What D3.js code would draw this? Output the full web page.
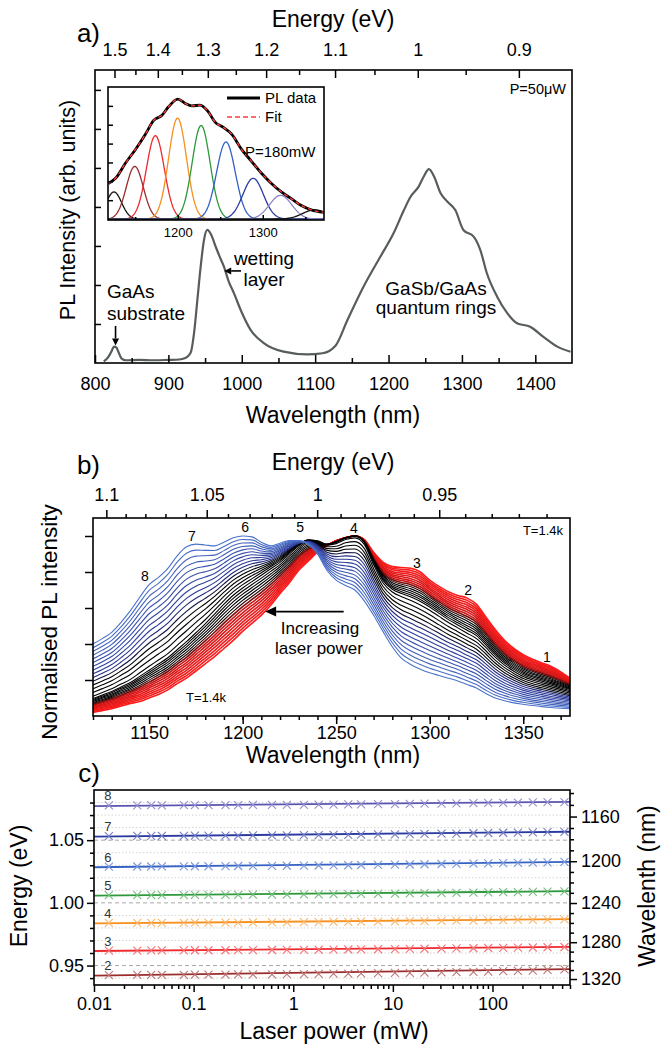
<!DOCTYPE html>
<html>
<head>
<meta charset="utf-8">
<title>PL spectra of GaSb/GaAs quantum rings</title>
<script src="https://cdnjs.cloudflare.com/ajax/libs/d3/7.8.5/d3.min.js"></script>
<style>
  body { margin: 0; background: #fff; }
  svg { display: block; }
</style>
</head>
<body>
<svg id="chart" width="664" height="1048"></svg>
<script>
var HC = 1239.84; // nm*eV, for the energy axes

/* ---- panel a: survey spectrum, P=50uW ---- */
var aWave = [812, 818, 822, 826, 829, 832, 836, 842, 860, 880,
             900, 915, 922, 927, 931, 935, 939.5, 944, 948.5, 953,
             958, 964.5, 970, 975.7, 982, 989.3, 998.5, 1012, 1030, 1057,
             1089, 1110, 1128, 1144, 1166, 1189, 1207, 1221, 1230, 1241,
             1248, 1255, 1262, 1271, 1280, 1291, 1302, 1316, 1325, 1334,
             1348, 1362, 1375, 1393, 1411, 1430, 1448];
var aIntensity = [0.04, 0.15, 0.28, 0.42, 0.40, 0.28, 0.12, 0.07, 0.08, 0.07,
                  0.08, 0.09, 0.12, 0.18, 0.30, 0.77, 1.62, 2.47, 3.15, 3.41,
                  3.30, 2.98, 2.72, 2.47, 2.10, 1.79, 1.36, 0.85, 0.51, 0.29,
                  0.22, 0.25, 0.45, 1.10, 1.96, 2.73, 3.33, 3.92, 4.26, 4.52,
                  4.78, 4.97, 4.78, 4.35, 4.14, 3.92, 3.41, 3.24, 2.90, 2.30,
                  1.70, 1.27, 1.02, 0.93, 0.67, 0.42, 0.29];
var aTopEnergy = [1.5, 1.4, 1.3, 1.2, 1.1, 1, 0.9];
var aTopEnergyMinor = [1.45, 1.35, 1.25, 1.15, 1.05, 0.95];
var aWaveTicks = [800, 900, 1000, 1100, 1200, 1300, 1400];
var aWaveMinor = [850, 950, 1050, 1150, 1250, 1350];
var aIntTicks = [1, 2, 3, 4, 5, 6, 7];

/* ---- inset: decomposition at P=180mW ---- */
var insetWave = [1118.4, 1126.9, 1138.6, 1150.3, 1162, 1171.7, 1181.5, 1189.2, 1200.2, 1208.8,
                 1216.6, 1226.3, 1236, 1243.9, 1253.6, 1263.4, 1275.1, 1286.8, 1298.5, 1310.2,
                 1321.9, 1333.6, 1345.3, 1357, 1371.7];
var insetPL = [1.89, 2.16, 2.97, 3.69, 4.50, 5.23, 5.50, 5.95, 6.36, 6.13,
               6.00, 6.04, 5.68, 5.14, 4.86, 4.50, 3.69, 3.06, 2.43, 1.89,
               1.44, 1.08, 0.72, 0.49, 0.36];
var peakCentre = [1125, 1149.5, 1173.7, 1199.8, 1227.5, 1256.7, 1288.7, 1321, 1361];
var peakHeight = [1.44, 2.79, 4.42, 5.35, 4.96, 4.09, 2.16, 1.26, 0.49];
var peakSigma  = [9, 10, 10.5, 10.5, 10.5, 11, 12, 13, 14];
var insetTicks = [1200, 1300];
var insetMinor = [1150, 1250, 1350];
var insetIntTicks = [1, 2, 3, 4, 5, 6];

/* ---- panel b: normalised spectra vs laser power ---- */
var bWave = [1120, 1125, 1130, 1135, 1140, 1145, 1150, 1155, 1160, 1165,
             1170, 1175, 1180, 1185, 1190, 1195, 1200, 1205, 1210, 1215,
             1220, 1225, 1230, 1235, 1240, 1245, 1250, 1255, 1260, 1265,
             1270, 1275, 1280, 1285, 1290, 1295, 1300, 1305, 1310, 1315,
             1320, 1325, 1330, 1335, 1340, 1345, 1350, 1355, 1360, 1365,
             1370, 1375];
// lowest power (red), middle (black), highest power (blue)
var bLowPower = [0.02, 0.03, 0.04, 0.055, 0.07, 0.08, 0.10, 0.12, 0.145, 0.18,
                 0.21, 0.25, 0.29, 0.33, 0.375, 0.42, 0.47, 0.515, 0.56, 0.615,
                 0.68, 0.74, 0.81, 0.86, 0.91, 0.945, 0.975, 0.99, 1.0, 0.98,
                 0.91, 0.855, 0.83, 0.825, 0.82, 0.80, 0.755, 0.72, 0.69, 0.67,
                 0.655, 0.62, 0.55, 0.48, 0.42, 0.375, 0.34, 0.315, 0.295, 0.275,
                 0.245, 0.21];
var bMidPower = [0.10, 0.12, 0.14, 0.165, 0.19, 0.225, 0.26, 0.295, 0.33, 0.375,
                 0.42, 0.47, 0.52, 0.575, 0.63, 0.68, 0.72, 0.755, 0.79, 0.825,
                 0.86, 0.905, 0.95, 0.98, 0.975, 0.955, 0.965, 0.99, 1.0, 0.965,
                 0.85, 0.75, 0.70, 0.675, 0.655, 0.63, 0.60, 0.565, 0.53, 0.50,
                 0.47, 0.44, 0.39, 0.335, 0.29, 0.255, 0.225, 0.205, 0.19, 0.175,
                 0.16, 0.145];
var bHighPower = [0.40, 0.43, 0.465, 0.52, 0.585, 0.66, 0.73, 0.77, 0.82, 0.89,
                  0.94, 0.955, 0.95, 0.945, 0.965, 0.99, 1.0, 0.995, 0.965, 0.945,
                  0.96, 0.975, 0.975, 0.955, 0.90, 0.81, 0.755, 0.725, 0.70, 0.64,
                  0.56, 0.47, 0.385, 0.32, 0.285, 0.26, 0.24, 0.225, 0.21, 0.195,
                  0.175, 0.155, 0.125, 0.10, 0.085, 0.073, 0.065, 0.058, 0.052, 0.047,
                  0.043, 0.04];
var bTopEnergy = [1.1, 1.05, 1, 0.95];
var bTopEnergyMinor = [1.09, 1.08, 1.07, 1.06, 1.04, 1.03, 1.02, 1.01,
                       0.99, 0.98, 0.97, 0.96, 0.94, 0.93, 0.92, 0.91];
var bWaveTicks = [1150, 1200, 1250, 1300, 1350];
var bIntTicks = [0.2, 0.4, 0.6, 0.8, 1.0];
var bPeakLabels = ['1', '2', '3', '4', '5', '6', '7', '8'];
var bPeakLabelWave = [1362.7, 1320.5, 1293.2, 1259.5, 1230.7, 1201.3, 1172.9, 1147.8];
var bPeakLabelInt = [0.30, 0.67, 0.82, 1.015, 1.025, 1.025, 0.97, 0.75];

/* ---- panel c: peak energies vs laser power ---- */
var laserPower = [0.0141, 0.0272, 0.0375, 0.048, 0.0798, 0.103, 0.141, 0.209, 0.28, 0.394,
                  0.612, 0.863, 1.28, 1.80, 2.54, 3.57, 4.80, 7.10, 10.5, 14.8,
                  20.8, 30.8, 43.5, 64.4, 90.6, 128, 180, 254, 357, 528];
var cPeaks = ['8', '7', '6', '5', '4', '3', '2'];
var cE8 = [1.0778, 1.0778, 1.0779, 1.0778, 1.0779, 1.0779, 1.0780, 1.0780, 1.0780, 1.0781,
           1.0781, 1.0782, 1.0782, 1.0783, 1.0784, 1.0785, 1.0786, 1.0787, 1.0788, 1.0789,
           1.0791, 1.0792, 1.0794, 1.0795, 1.0797, 1.0798, 1.0800, 1.0801, 1.0803, 1.0804];
var cE7 = [1.0533, 1.0534, 1.0534, 1.0535, 1.0535, 1.0536, 1.0536, 1.0537, 1.0537, 1.0538,
           1.0539, 1.0539, 1.0540, 1.0541, 1.0542, 1.0543, 1.0544, 1.0546, 1.0547, 1.0549,
           1.0550, 1.0552, 1.0553, 1.0555, 1.0557, 1.0559, 1.0560, 1.0562, 1.0564, 1.0566];
var cE6 = [1.0289, 1.0290, 1.0290, 1.0291, 1.0291, 1.0292, 1.0292, 1.0293, 1.0294, 1.0294,
           1.0295, 1.0296, 1.0297, 1.0298, 1.0299, 1.0300, 1.0302, 1.0303, 1.0305, 1.0306,
           1.0308, 1.0310, 1.0311, 1.0313, 1.0315, 1.0317, 1.0319, 1.0321, 1.0323, 1.0326];
var cE5 = [1.0061, 1.0061, 1.0062, 1.0062, 1.0062, 1.0063, 1.0063, 1.0064, 1.0064, 1.0065,
           1.0066, 1.0066, 1.0067, 1.0068, 1.0069, 1.0070, 1.0071, 1.0072, 1.0074, 1.0075,
           1.0077, 1.0078, 1.0080, 1.0081, 1.0083, 1.0085, 1.0086, 1.0088, 1.0090, 1.0092];
var cE4 = [0.9840, 0.9840, 0.9841, 0.9841, 0.9841, 0.9842, 0.9842, 0.9843, 0.9843, 0.9844,
           0.9844, 0.9845, 0.9846, 0.9847, 0.9848, 0.9849, 0.9850, 0.9851, 0.9852, 0.9854,
           0.9855, 0.9856, 0.9858, 0.9859, 0.9861, 0.9862, 0.9864, 0.9865, 0.9867, 0.9869];
var cE3 = [0.9620, 0.9620, 0.9621, 0.9621, 0.9621, 0.9622, 0.9622, 0.9622, 0.9623, 0.9623,
           0.9624, 0.9625, 0.9625, 0.9626, 0.9627, 0.9628, 0.9629, 0.9630, 0.9631, 0.9633,
           0.9634, 0.9635, 0.9637, 0.9638, 0.9640, 0.9641, 0.9643, 0.9644, 0.9646, 0.9648];
var cE2 = [0.9424, 0.9425, 0.9425, 0.9426, 0.9426, 0.9427, 0.9427, 0.9428, 0.9429, 0.9429,
           0.9430, 0.9431, 0.9432, 0.9433, 0.9435, 0.9436, 0.9437, 0.9439, 0.9441, 0.9442,
           0.9444, 0.9446, 0.9448, 0.9450, 0.9452, 0.9455, 0.9457, 0.9460, 0.9465, 0.9470];
var cFitLeft  = [1.0772, 1.0528, 1.0284, 1.0057, 0.9836, 0.9616, 0.9420];
var cFitRight = [1.0806, 1.0567, 1.0327, 1.0093, 0.9870, 0.9649, 0.9472];
var cEnergyTicks = [0.95, 1.00, 1.05];
var cWaveTicks = [1160, 1200, 1240, 1280, 1320];
var cPowerTicks = [0.01, 0.1, 1, 10, 100];

/* colours */
var cRowColour = ['#5b54b2', '#2b3aa0', '#3461c4', '#2c9a3a', '#f7901e', '#ee2a2f', '#9a2c2c'];
var insetColour = ['#111', '#9a2c2c', '#ee2a2f', '#f7901e', '#2c9a3a', '#3461c4', '#2b3aa0', '#8a82cc', '#111'];

var FONT = '"Liberation Sans", Arial, Helvetica, sans-serif';
var svg = d3.select('#chart');

function txt(g, x, y, s, size, anchor) {
    return g.append('text')
        .attr('x', x).attr('y', y)
        .attr('font-family', FONT)
        .attr('font-size', size)
        .attr('text-anchor', anchor || 'start')
        .attr('fill', '#000')
        .text(s);
}

function vtxt(g, x, y, s, size) {
    return g.append('text')
        .attr('transform', 'translate(' + x + ',' + y + ') rotate(-90)')
        .attr('font-family', FONT)
        .attr('font-size', size)
        .attr('text-anchor', 'middle')
        .attr('fill', '#000')
        .text(s);
}

function styleAxis(g, size) {
    g.select('.domain').remove();
    g.selectAll('.tick line').attr('stroke', '#000').attr('stroke-width', 1.5);
    g.selectAll('.tick text')
        .attr('font-family', FONT)
        .attr('font-size', size || 18)
        .attr('fill', '#000');
}

function noLabel() { return ''; }
function energyLabel(w) { return +(HC / w).toFixed(2); }
function toWave(e) { return HC / e; }

function arrow(g, x1, y1, x2, y2, head, width) {
    var ang = Math.atan2(y2 - y1, x2 - x1);
    var bx = x2 - head * Math.cos(ang), by = y2 - head * Math.sin(ang);
    var px = Math.sin(ang) * width, py = -Math.cos(ang) * width;
    g.append('line')
        .attr('x1', x1).attr('y1', y1).attr('x2', bx).attr('y2', by)
        .attr('stroke', '#000').attr('stroke-width', 1.6);
    g.append('path')
        .attr('d', 'M' + x2 + ',' + y2 + 'L' + (bx + px) + ',' + (by + py) + 'L' + (bx - px) + ',' + (by - py) + 'Z')
        .attr('fill', '#000');
}

function box(g, b) {
    g.append('rect')
        .attr('x', b.l).attr('y', b.t)
        .attr('width', b.r - b.l).attr('height', b.b - b.t)
        .attr('fill', 'none').attr('stroke', '#000').attr('stroke-width', 1.6);
}

function clip(g, id, b) {
    g.append('clipPath').attr('id', id).append('rect')
        .attr('x', b.l).attr('y', b.t)
        .attr('width', b.r - b.l).attr('height', b.b - b.t);
}

/* ================= panel a ================= */
var aBox = {l: 95, r: 572, t: 70, b: 363};
var xA = d3.scaleLinear().domain([800, 1450]).range([aBox.l, aBox.r]);
var yA = d3.scaleLinear().domain([0, 7.51]).range([aBox.b, aBox.t]);
var pa = svg.append('g').attr('class', 'panel-a');
clip(pa, 'clipA', aBox);

pa.append('path')
    .datum(d3.zip(aWave, aIntensity))
    .attr('d', d3.line().x(function(d) { return xA(d[0]); }).y(function(d) { return yA(d[1]); }).curve(d3.curveMonotoneX))
    .attr('fill', 'none')
    .attr('stroke', '#575c5c')
    .attr('stroke-width', 2.2)
    .attr('clip-path', 'url(#clipA)');

// axes, ticks point inwards here
pa.append('g').attr('transform', 'translate(0,' + aBox.b + ')')
    .call(d3.axisBottom(xA).tickValues(aWaveTicks).tickSize(-8).tickPadding(14).tickFormat(d3.format('d')))
    .call(styleAxis);
pa.append('g').attr('transform', 'translate(0,' + aBox.b + ')')
    .call(d3.axisBottom(xA).tickValues(aWaveMinor).tickSize(-5).tickFormat(noLabel))
    .call(styleAxis);
pa.append('g').attr('transform', 'translate(0,' + aBox.t + ')')
    .call(d3.axisTop(xA).tickValues(aTopEnergy.map(toWave)).tickSize(-8).tickPadding(14).tickFormat(energyLabel))
    .call(styleAxis);
pa.append('g').attr('transform', 'translate(0,' + aBox.t + ')')
    .call(d3.axisTop(xA).tickValues(aTopEnergyMinor.map(toWave)).tickSize(-5).tickFormat(noLabel))
    .call(styleAxis);
pa.append('g').attr('transform', 'translate(' + aBox.l + ',0)')
    .call(d3.axisLeft(yA).tickValues(aIntTicks).tickSize(-6).tickFormat(noLabel))
    .call(styleAxis);
box(pa, aBox);

txt(pa, 333, 27, 'Energy (eV)', 23, 'middle');
txt(pa, 333, 423, 'Wavelength (nm)', 23, 'middle');
vtxt(pa, 75, 210, 'PL Intensity (arb. units)', 21.5);
txt(pa, 100, 42, 'a)', 26, 'end');
txt(pa, 566, 94, 'P=50\u03bcW', 14.5, 'end');

// annotations
txt(pa, 107, 298, 'GaAs', 19);
txt(pa, 107, 320, 'substrate', 19);
arrow(pa, xA(828), yA(0.95), xA(828), yA(0.45), 7, 3.5);
txt(pa, 264, 265, 'wetting', 19, 'middle');
txt(pa, 264, 286, 'layer', 19, 'middle');
arrow(pa, xA(999), yA(2.36), xA(976), yA(2.36), 7, 3.5);
txt(pa, 436, 295, 'GaSb/GaAs', 19, 'middle');
txt(pa, 436, 314, 'quantum rings', 19, 'middle');

/* ---- inset ---- */
var inBox = {l: 108, r: 324, t: 87, b: 220};
var xI = d3.scaleLinear().domain([1118, 1372]).range([inBox.l, inBox.r]);
var yI = d3.scaleLinear().domain([-0.05, 7.0]).range([inBox.b, inBox.t]);
var ins = pa.append('g').attr('class', 'inset');
ins.append('rect').attr('x', inBox.l).attr('y', inBox.t)
    .attr('width', inBox.r - inBox.l).attr('height', inBox.b - inBox.t).attr('fill', '#fff');
clip(ins, 'clipI', inBox);

var lineI = d3.line().x(function(d) { return xI(d[0]); }).y(function(d) { return yI(d[1]); });
var gWave = d3.range(1118, 1373, 1);
peakCentre.forEach(function(c, k) {
    var pts = gWave.map(function(w) {
        var z = (w - c) / peakSigma[k];
        return [w, peakHeight[k] * Math.exp(-0.5 * z * z)];
    });
    ins.append('path').datum(pts)
        .attr('d', lineI)
        .attr('fill', 'none')
        .attr('stroke', insetColour[k])
        .attr('stroke-width', 1.3)
        .attr('clip-path', 'url(#clipI)');
});
var insetData = d3.zip(insetWave, insetPL);
ins.append('path').datum(insetData)
    .attr('d', lineI.curve(d3.curveMonotoneX))
    .attr('fill', 'none').attr('stroke', '#000').attr('stroke-width', 2.8)
    .attr('clip-path', 'url(#clipI)');
ins.append('path').datum(insetData)
    .attr('d', lineI.curve(d3.curveMonotoneX))
    .attr('fill', 'none').attr('stroke', '#ff3b3b').attr('stroke-width', 1.3)
    .attr('stroke-dasharray', '4,3')
    .attr('clip-path', 'url(#clipI)');

ins.append('g').attr('transform', 'translate(0,' + inBox.b + ')')
    .call(d3.axisBottom(xI).tickValues(insetTicks).tickSize(-5).tickPadding(8).tickFormat(d3.format('d')))
    .call(styleAxis, 13);
ins.append('g').attr('transform', 'translate(0,' + inBox.b + ')')
    .call(d3.axisBottom(xI).tickValues(insetMinor).tickSize(-3).tickFormat(noLabel))
    .call(styleAxis);
ins.append('g').attr('transform', 'translate(' + inBox.l + ',0)')
    .call(d3.axisLeft(yI).tickValues(insetIntTicks).tickSize(-5).tickFormat(noLabel))
    .call(styleAxis);
box(ins, inBox);

// legend
ins.append('line').attr('x1', 227).attr('x2', 260).attr('y1', 98).attr('y2', 98)
    .attr('stroke', '#000').attr('stroke-width', 2.8);
txt(ins, 265, 103, 'PL data', 15);
ins.append('line').attr('x1', 227).attr('x2', 260).attr('y1', 117).attr('y2', 117)
    .attr('stroke', '#ff3b3b').attr('stroke-width', 1.4).attr('stroke-dasharray', '5,3');
txt(ins, 265, 122, 'Fit', 15);
txt(ins, 245, 157, 'P=180mW', 15);

/* ================= panel b ================= */
var bBox = {l: 93, r: 570, t: 518, b: 716};
var xB = d3.scaleLinear().domain([1120, 1375]).range([bBox.l, bBox.r]);
var yB = d3.scaleLinear().domain([0, 1.1]).range([bBox.b, bBox.t]);
var pb = svg.append('g').attr('class', 'panel-b');
clip(pb, 'clipB', bBox);

var nCurves = laserPower.length;
var curveColour = d3.scaleLinear()
    .domain([0, 0.24, 0.33, 0.62, 0.7, 1])
    .range(['#ff1c1c', '#d01515', '#000000', '#000000', '#283392', '#4b73cc'])
    .interpolate(d3.interpolateRgb);

// spectra between the three read curves, one per laser power
var spectra = laserPower.map(function(p, i) {
    var t = i / (nCurves - 1);
    var lo = t < 0.5 ? bLowPower : bMidPower;
    var hi = t < 0.5 ? bMidPower : bHighPower;
    var s = t < 0.5 ? t / 0.5 : (t - 0.5) / 0.5;
    return {t: t, pts: bWave.map(function(w, j) { return [w, lo[j] + (hi[j] - lo[j]) * s]; })};
});

var lineB = d3.line().x(function(d) { return xB(d[0]); }).y(function(d) { return yB(d[1]); }).curve(d3.curveMonotoneX);
pb.append('g').attr('clip-path', 'url(#clipB)')
    .selectAll('path').data(spectra).enter().append('path')
    .attr('d', function(d) { return lineB(d.pts); })
    .attr('fill', 'none')
    .attr('stroke', function(d) { return curveColour(d.t); })
    .attr('stroke-width', function(d) { return d.t < 0.3 ? 1.6 : 1.1; });

pb.append('g').attr('transform', 'translate(0,' + bBox.b + ')')
    .call(d3.axisBottom(xB).tickValues(bWaveTicks).tickSize(8).tickPadding(2).tickFormat(d3.format('d')))
    .call(styleAxis);
pb.append('g').attr('transform', 'translate(0,' + bBox.b + ')')
    .call(d3.axisBottom(xB).tickValues(d3.range(1120, 1376, 10)).tickSize(4).tickFormat(noLabel))
    .call(styleAxis);
pb.append('g').attr('transform', 'translate(0,' + bBox.t + ')')
    .call(d3.axisTop(xB).tickValues(bTopEnergy.map(toWave)).tickSize(8).tickPadding(9).tickFormat(energyLabel))
    .call(styleAxis);
pb.append('g').attr('transform', 'translate(0,' + bBox.t + ')')
    .call(d3.axisTop(xB).tickValues(bTopEnergyMinor.map(toWave)).tickSize(4).tickFormat(noLabel))
    .call(styleAxis);
pb.append('g').attr('transform', 'translate(' + bBox.l + ',0)')
    .call(d3.axisLeft(yB).tickValues(bIntTicks).tickSize(8).tickFormat(noLabel))
    .call(styleAxis);
box(pb, bBox);

txt(pb, 333, 470, 'Energy (eV)', 23, 'middle');
txt(pb, 333, 763, 'Wavelength (nm)', 23, 'middle');
vtxt(pb, 57, 622, 'Normalised PL intensity', 22.5);
txt(pb, 100, 474, 'b)', 26, 'end');
txt(pb, 563, 535, 'T=1.4k', 13, 'end');
txt(pb, 186, 702, 'T=1.4k', 13);

bPeakLabels.forEach(function(s, k) {
    txt(pb, xB(bPeakLabelWave[k]), yB(bPeakLabelInt[k]), s, 14, 'middle');
});
arrow(pb, xB(1254), yB(0.58), xB(1212), yB(0.58), 11, 5);
txt(pb, 320, 634, 'Increasing', 17, 'middle');
txt(pb, 319, 654, 'laser power', 17, 'middle');

/* ================= panel c ================= */
var cBox = {l: 94, r: 570, t: 790, b: 985};
var xC = d3.scaleLog().domain([0.01, 600]).range([cBox.l, cBox.r]);
var yC = d3.scaleLinear().domain([0.9345, 1.09]).range([cBox.b, cBox.t]);
var pc = svg.append('g').attr('class', 'panel-c');

// grid lines
var minorE = d3.range(94, 109).map(function(v) { return v / 100; })
    .filter(function(e) { return cEnergyTicks.indexOf(e) < 0; });
pc.selectAll('.gmin').data(minorE).enter().append('line')
    .attr('x1', cBox.l).attr('x2', cBox.r)
    .attr('y1', function(d) { return yC(d); }).attr('y2', function(d) { return yC(d); })
    .attr('stroke', '#d4d4d4').attr('stroke-width', 1).attr('stroke-dasharray', '1.5,2');
pc.selectAll('.gmaj').data(cEnergyTicks).enter().append('line')
    .attr('x1', cBox.l).attr('x2', cBox.r)
    .attr('y1', function(d) { return yC(d); }).attr('y2', function(d) { return yC(d); })
    .attr('stroke', '#a8a8a8').attr('stroke-width', 1).attr('stroke-dasharray', '4,3');

var cRows = [cE8, cE7, cE6, cE5, cE4, cE3, cE2];
var xMark = 'M-4,-4L4,4M-4,4L4,-4';
cRows.forEach(function(row, k) {
    var col = cRowColour[k];
    var light = d3.interpolateRgb(col, '#fff')(0.35);
    pc.append('line')
        .attr('x1', xC(0.01)).attr('y1', yC(cFitLeft[k]))
        .attr('x2', xC(600)).attr('y2', yC(cFitRight[k]))
        .attr('stroke', col).attr('stroke-width', 1.8);
    pc.append('g').selectAll('path').data(d3.zip(laserPower, row)).enter().append('path')
        .attr('transform', function(d) { return 'translate(' + xC(d[0]) + ',' + yC(d[1]) + ')'; })
        .attr('d', xMark)
        .attr('fill', 'none').attr('stroke', light).attr('stroke-width', 1.1);
    txt(pc, xC(0.0138), yC(row[0]) - 5, cPeaks[k], 13, 'middle').attr('fill', '#333');
});

var logMinor = xC.ticks().filter(function(v) { return cPowerTicks.indexOf(+v.toPrecision(3)) < 0; });
pc.append('g').attr('transform', 'translate(0,' + cBox.b + ')')
    .call(d3.axisBottom(xC).tickValues(cPowerTicks).tickSize(7).tickPadding(5).tickFormat(function(d) { return String(d); }))
    .call(styleAxis);
pc.append('g').attr('transform', 'translate(0,' + cBox.b + ')')
    .call(d3.axisBottom(xC).tickValues(logMinor).tickSize(4).tickFormat(noLabel))
    .call(styleAxis);
pc.append('g').attr('transform', 'translate(' + cBox.l + ',0)')
    .call(d3.axisLeft(yC).tickValues(cEnergyTicks).tickSize(7).tickPadding(3).tickFormat(d3.format('.2f')))
    .call(styleAxis);
pc.append('g').attr('transform', 'translate(' + cBox.l + ',0)')
    .call(d3.axisLeft(yC).tickValues(minorE).tickSize(4).tickFormat(noLabel))
    .call(styleAxis);
var waveMinor = d3.range(1140, 1330, 10).filter(function(w) { return cWaveTicks.indexOf(w) < 0; });
pc.append('g').attr('transform', 'translate(' + cBox.r + ',0)')
    .call(d3.axisRight(yC).tickValues(cWaveTicks.map(toWave)).tickSize(7).tickPadding(4)
        .tickFormat(function(e) { return Math.round(HC / e); }))
    .call(styleAxis);
pc.append('g').attr('transform', 'translate(' + cBox.r + ',0)')
    .call(d3.axisRight(yC).tickValues(waveMinor.map(toWave)).tickSize(4).tickFormat(noLabel))
    .call(styleAxis);
box(pc, cBox);

txt(pc, 100, 782, 'c)', 26, 'end');
vtxt(pc, 27, 886, 'Energy (eV)', 23);
vtxt(pc, 655, 886, 'Wavelenth (nm)', 23);
txt(pc, 334, 1039, 'Laser power (mW)', 23, 'middle');
</script>
</body>
</html>
